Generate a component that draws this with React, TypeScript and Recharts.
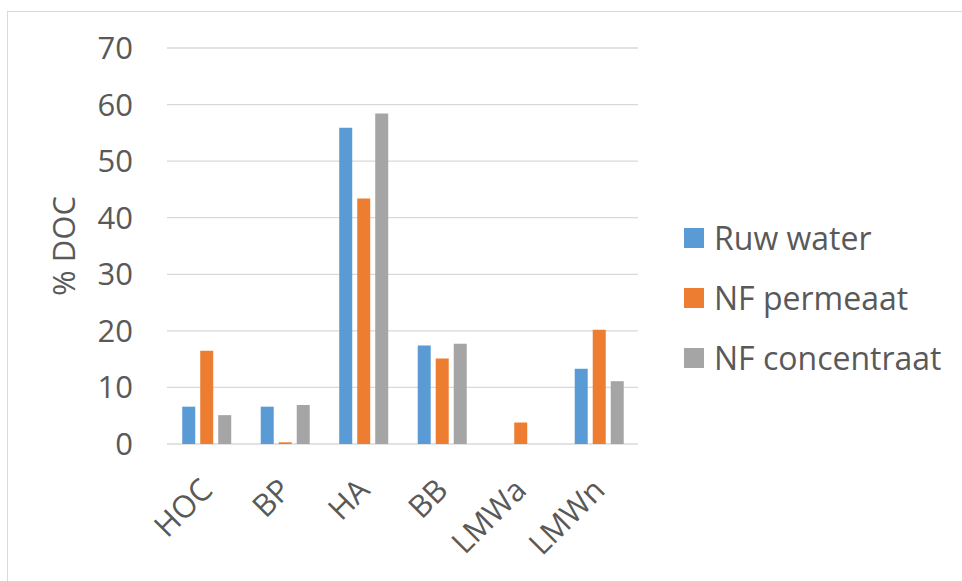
import { BarChart, Bar, XAxis, YAxis, CartesianGrid, Legend } from "recharts";

const fractions = ["HOC", "BP", "HA", "BB", "LMWa", "LMWn"];
const ruwWater = [6.6, 6.6, 55.9, 17.4, 0, 13.3];
const nfPermeaat = [16.5, 0.3, 43.4, 15.1, 3.8, 20.2];
const nfConcentraat = [5.1, 6.9, 58.4, 17.7, 0, 11.1];
const yTicks = [0, 10, 20, 30, 40, 50, 60, 70];

const series = [
  { key: "ruw", name: "Ruw water", values: ruwWater, color: "#5B9BD5" },
  { key: "perm", name: "NF permeaat", values: nfPermeaat, color: "#ED7D31" },
  { key: "conc", name: "NF concentraat", values: nfConcentraat, color: "#A5A5A5" },
];

const data = fractions.map((name, i) => {
  const row: Record<string, string | number> = { name };
  series.forEach((s) => (row[s.key] = s.values[i]));
  return row;
});

const FONT = "'Open Sans', 'Noto Sans', sans-serif";
const TEXT = "#595959";

// Rotated category labels, ending just below-right of the tick
const CategoryTick = ({ x, y, payload }: any) => (
  <g transform={`translate(${x + 8},${y + 48})`}>
    <text
      transform="rotate(-45)"
      textAnchor="end"
      fill={TEXT}
      fontSize={31}
      fontFamily={FONT}
    >
      {payload.value}
    </text>
  </g>
);

const AxisTitle = ({ viewBox }: any) => {
  const cy = viewBox.y + viewBox.height / 2;
  const x = 75;
  return (
    <text
      x={x}
      y={cy}
      transform={`rotate(-90, ${x}, ${cy})`}
      textAnchor="middle"
      fill={TEXT}
      fontSize={31}
      fontFamily={FONT}
    >
      % DOC
    </text>
  );
};

const LegendList = () => (
  <div style={{ fontFamily: FONT }}>
    {series.map((s) => (
      <div
        key={s.key}
        style={{ display: "flex", alignItems: "center", height: 60 }}
      >
        <span
          style={{
            width: 20,
            height: 20,
            background: s.color,
            display: "inline-block",
            marginRight: 10,
          }}
        />
        <span style={{ fontSize: 32, color: TEXT, lineHeight: "60px" }}>
          {s.name}
        </span>
      </div>
    ))}
  </div>
);

export default function App() {
  return (
    <div
      style={{
        position: "absolute",
        left: 0,
        top: 0,
        width: 962,
        height: 581,
        background: "#fff",
        overflow: "hidden",
      }}
    >
      <div
        style={{
          position: "absolute",
          left: 7,
          top: 11,
          width: 1000,
          height: 620,
          border: "1px solid #d9d9d9",
        }}
      />
      <BarChart
        width={962}
        height={581}
        data={data}
        margin={{ top: 48, right: 324, bottom: 37, left: 20 }}
        barCategoryGap="19.4%"
        barGap={5}
        style={{ position: "absolute", left: 0, top: 0 }}
      >
        <CartesianGrid vertical={false} stroke="#d9d9d9" strokeWidth={1.3} />
        <XAxis
          dataKey="name"
          height={100}
          axisLine={false}
          tickLine={false}
          tickSize={0}
          tickMargin={0}
          interval={0}
          tick={<CategoryTick />}
        />
        <YAxis
          width={147}
          domain={[0, 70]}
          ticks={yTicks}
          axisLine={false}
          tickLine={false}
          tickSize={0}
          tickMargin={34}
          tick={{ fill: TEXT, fontSize: 31, fontFamily: FONT }}
          label={<AxisTitle />}
        />
        <Legend
          layout="vertical"
          align="center"
          verticalAlign="middle"
          wrapperStyle={{ left: 684, top: 208, width: 275 }}
          content={<LegendList />}
        />
        {series.map((s) => (
          <Bar
            key={s.key}
            dataKey={s.key}
            name={s.name}
            fill={s.color}
            isAnimationActive={false}
          />
        ))}
      </BarChart>
    </div>
  );
}
